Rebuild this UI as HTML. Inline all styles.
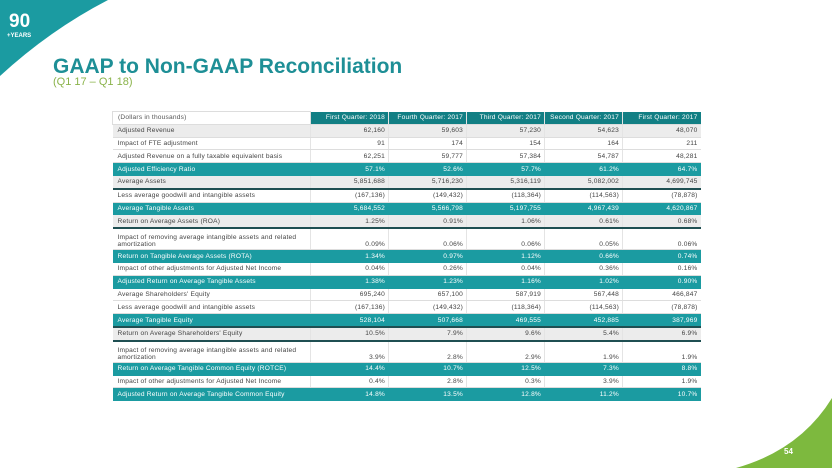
<!DOCTYPE html>
<html><head><meta charset="utf-8"><style>
body{margin:0;width:832px;height:468px;overflow:hidden;background:#fff;font-family:"Liberation Sans",sans-serif;position:relative}
.t{position:absolute;left:112px;top:111px;width:588px;border-collapse:collapse;table-layout:fixed;font-size:6.6px;letter-spacing:0.2px;color:#444}
.t td{padding:0 3px;border-bottom:1px solid #ddd;border-right:1px solid #e4e4e4;text-align:right;height:11.8px;line-height:7px;white-space:nowrap;overflow:hidden}
.t td:first-child{text-align:left;padding-left:5px;white-space:normal}
.t td:last-child{border-right:none}
.h td{background:#127f84;color:#fff}
.h td:first-child{background:#fff;color:#555;border:1px solid #ddd}
.g td{background:#ececec}
.k td{background:#1b9ba1;color:#fff;border-color:#1b9ba1}
.dl td{border-bottom:2px solid #1f4f52}
.two td{height:19px;vertical-align:bottom;padding-bottom:1px}
</style></head><body>
<svg width="832" height="468" style="position:absolute;left:0;top:0">
<path d="M0,0 L108,0 Q50,30 0,76 Z" fill="#1b9ba1"/>
<path d="M832,398 L832,468 L736,468 Q800,450 832,398 Z" fill="#7db93e"/>
<text x="9" y="27" font-family="Liberation Sans" font-weight="bold" font-size="19" fill="#fff">90</text>
<text x="7" y="37" font-family="Liberation Sans" font-weight="bold" font-size="6" fill="#fff">+YEARS</text>
<text x="784" y="454" font-family="Liberation Sans" font-weight="bold" font-size="8" fill="#fff">54</text>
</svg>
<div style="position:absolute;left:53px;top:55px;font-size:21px;line-height:24px;font-weight:bold;color:#1e8f96">GAAP to Non-GAAP Reconciliation</div>
<div style="position:absolute;left:53px;top:76px;font-size:11px;line-height:13px;color:#8ab34a">(Q1 17 – Q1 18)</div>
<table class="t">
<colgroup><col style="width:198px"><col style="width:78px"><col style="width:78px"><col style="width:78px"><col style="width:78px"><col style="width:78px"></colgroup>
<tr class="h"><td>(Dollars in thousands)</td><td>First Quarter: 2018</td><td>Fourth Quarter: 2017</td><td>Third Quarter: 2017</td><td>Second Quarter: 2017</td><td>First Quarter: 2017</td></tr>
<tr class="g"><td>Adjusted Revenue</td><td>62,160</td><td>59,603</td><td>57,230</td><td>54,623</td><td>48,070</td></tr>
<tr><td>Impact of FTE adjustment</td><td>91</td><td>174</td><td>154</td><td>164</td><td>211</td></tr>
<tr><td>Adjusted Revenue on a fully taxable equivalent basis</td><td>62,251</td><td>59,777</td><td>57,384</td><td>54,787</td><td>48,281</td></tr>
<tr class="k"><td>Adjusted Efficiency Ratio</td><td>57.1%</td><td>52.6%</td><td>57.7%</td><td>61.2%</td><td>64.7%</td></tr>
<tr class="g dl"><td>Average Assets</td><td>5,851,688</td><td>5,716,230</td><td>5,316,119</td><td>5,082,002</td><td>4,699,745</td></tr>
<tr><td>Less average goodwill and intangible assets</td><td>(167,136)</td><td>(149,432)</td><td>(118,364)</td><td>(114,563)</td><td>(78,878)</td></tr>
<tr class="k"><td>Average Tangible Assets</td><td>5,684,552</td><td>5,566,798</td><td>5,197,755</td><td>4,967,439</td><td>4,620,867</td></tr>
<tr class="g dl"><td>Return on Average Assets (ROA)</td><td>1.25%</td><td>0.91%</td><td>1.06%</td><td>0.61%</td><td>0.68%</td></tr>
<tr class="two"><td>Impact of removing average intangible assets and related amortization</td><td>0.09%</td><td>0.06%</td><td>0.06%</td><td>0.05%</td><td>0.06%</td></tr>
<tr class="k"><td>Return on Tangible Average Assets (ROTA)</td><td>1.34%</td><td>0.97%</td><td>1.12%</td><td>0.66%</td><td>0.74%</td></tr>
<tr><td>Impact of other adjustments for Adjusted Net Income</td><td>0.04%</td><td>0.26%</td><td>0.04%</td><td>0.36%</td><td>0.16%</td></tr>
<tr class="k"><td>Adjusted Return on Average Tangible Assets</td><td>1.38%</td><td>1.23%</td><td>1.16%</td><td>1.02%</td><td>0.90%</td></tr>
<tr><td>Average Shareholders' Equity</td><td>695,240</td><td>657,100</td><td>587,919</td><td>567,448</td><td>466,847</td></tr>
<tr><td>Less average goodwill and intangible assets</td><td>(167,136)</td><td>(149,432)</td><td>(118,364)</td><td>(114,563)</td><td>(78,878)</td></tr>
<tr class="k dl"><td>Average Tangible Equity</td><td>528,104</td><td>507,668</td><td>469,555</td><td>452,885</td><td>387,969</td></tr>
<tr class="g dl"><td>Return on Average Shareholders' Equity</td><td>10.5%</td><td>7.9%</td><td>9.6%</td><td>5.4%</td><td>6.9%</td></tr>
<tr class="two"><td>Impact of removing average intangible assets and related amortization</td><td>3.9%</td><td>2.8%</td><td>2.9%</td><td>1.9%</td><td>1.9%</td></tr>
<tr class="k"><td>Return on Average Tangible Common Equity (ROTCE)</td><td>14.4%</td><td>10.7%</td><td>12.5%</td><td>7.3%</td><td>8.8%</td></tr>
<tr><td>Impact of other adjustments for Adjusted Net Income</td><td>0.4%</td><td>2.8%</td><td>0.3%</td><td>3.9%</td><td>1.9%</td></tr>
<tr class="k"><td>Adjusted Return on Average Tangible Common Equity</td><td>14.8%</td><td>13.5%</td><td>12.8%</td><td>11.2%</td><td>10.7%</td></tr>
</table>
</body></html>
